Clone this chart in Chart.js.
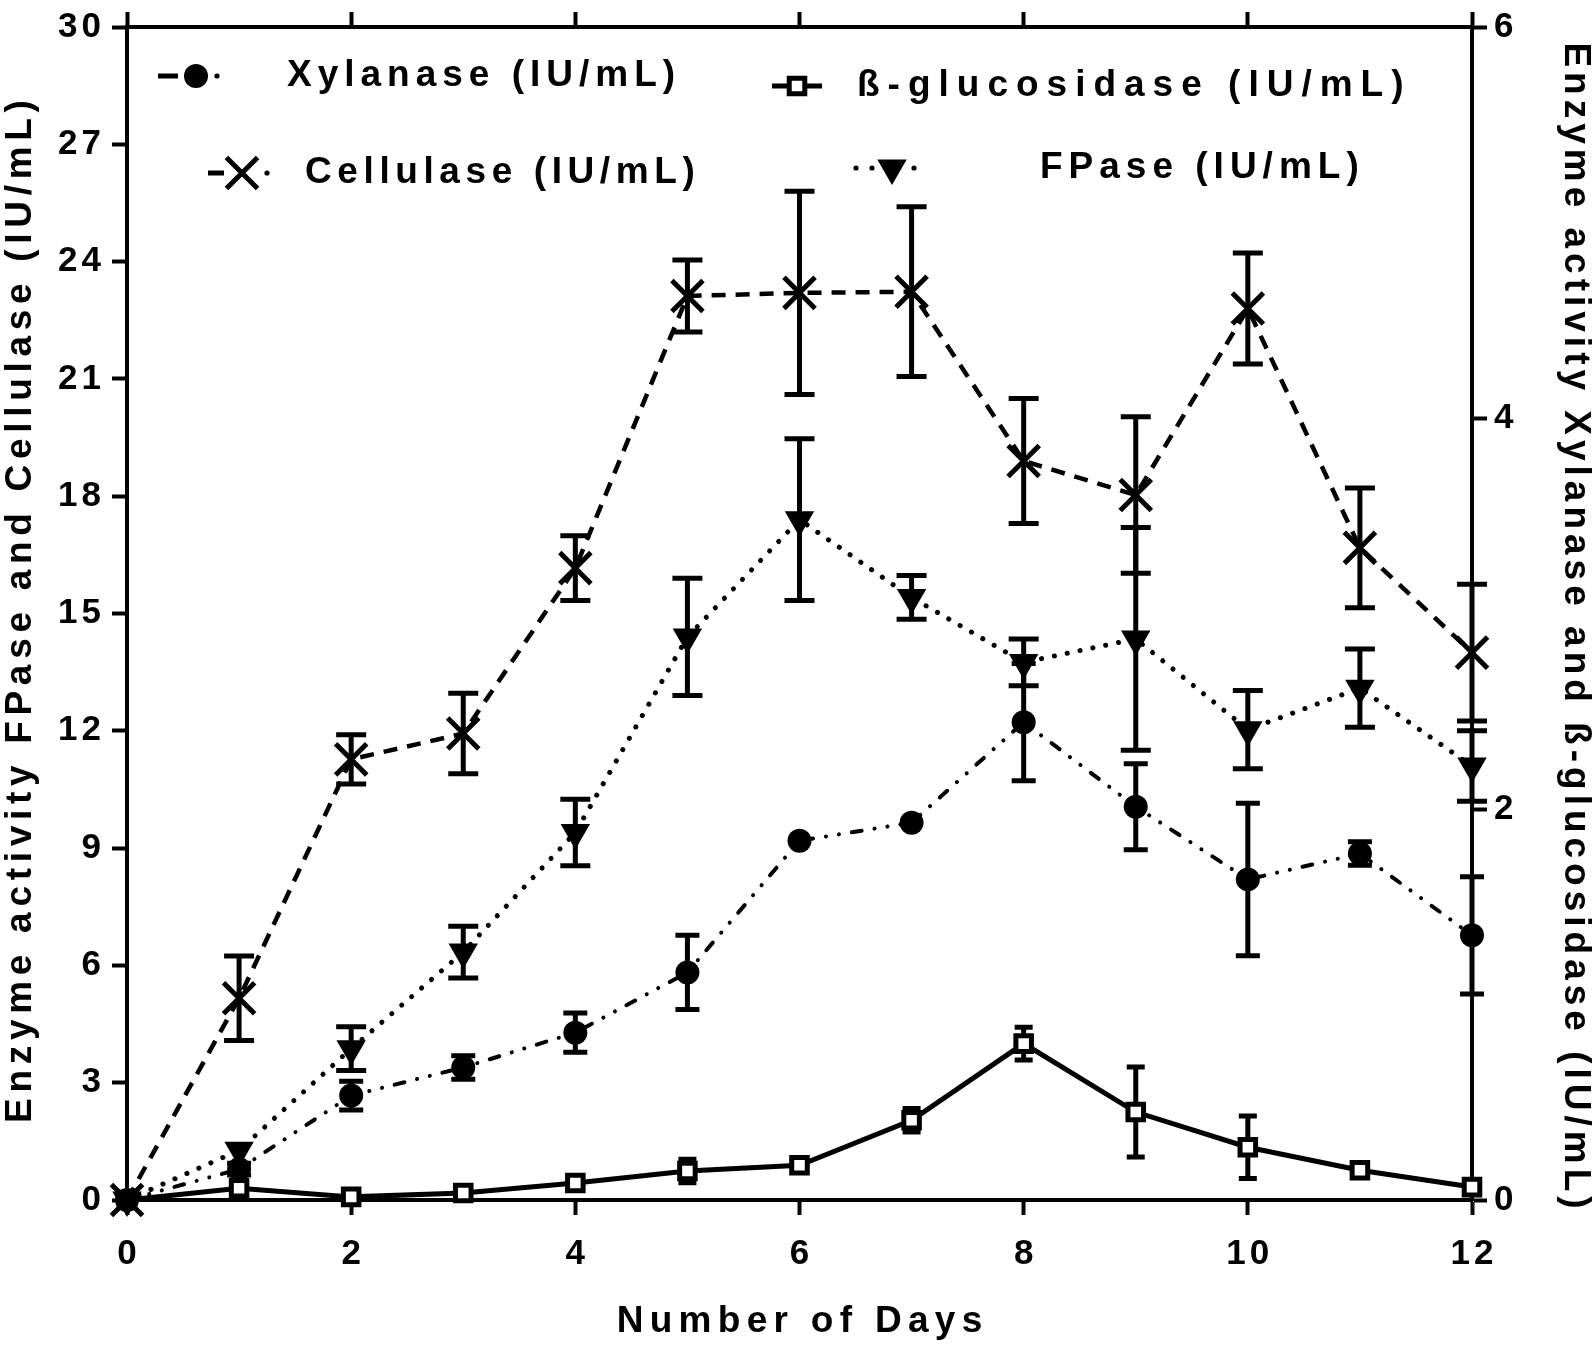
<!DOCTYPE html>
<html>
<head>
<meta charset="utf-8">
<script src="https://cdn.jsdelivr.net/npm/chart.js@4.4.0/dist/chart.umd.min.js"></script>
<style>
  html, body { margin: 0; padding: 0; background: #fff; overflow: hidden; }
  canvas { display: block; }
</style>
</head>
<body>
<canvas id="chart" width="1595" height="1347"></canvas>
<script>
// values
var days = [0, 1, 2, 3, 4, 5, 6, 7, 8, 9, 10, 11, 12];

// left axis (FPase and Cellulase, IU/mL)
var cellulase    = [0, 5.16, 11.27, 11.93, 16.16, 23.12, 23.2, 23.23, 18.9, 18.03, 22.8, 16.68, 14.0];
var cellulaseErr = [0, 1.08, 0.63, 1.03, 0.83, 0.92, 2.6, 2.17, 1.6, 2.0, 1.42, 1.53, 1.75];
var fpase        = [0, 1.27, 3.87, 6.34, 9.4, 14.4, 17.4, 15.41, 13.75, 14.35, 12.03, 13.09, 11.1];
var fpaseErr     = [0, 0, 0.56, 0.66, 0.85, 1.5, 2.07, 0.56, 0.6, 2.85, 1.0, 1.0, 0.9];

// right axis (Xylanase and ß-glucosidase, IU/mL)
var xylanase        = [0, 0.158, 0.534, 0.678, 0.856, 1.164, 1.838, 1.93, 2.444, 2.012, 1.64, 1.772, 1.354];
var xylanaseErr     = [0, 0.03, 0.074, 0.06, 0.1, 0.19, 0, 0, 0.3, 0.22, 0.39, 0.06, 0.3];
var glucosidase     = [0, 0.06, 0.016, 0.036, 0.087, 0.148, 0.178, 0.408, 0.8, 0.45, 0.27, 0.152, 0.066];
var glucosidaseErr  = [0, 0.02, 0.02, 0.01, 0.02, 0.06, 0.02, 0.06, 0.084, 0.23, 0.16, 0.02, 0.01];

var xLabel = 'Number of Days';
var yLeftLabel = 'Enzyme activity FPase and Cellulase (IU/mL)';
var yRightLabel = 'Enzyme activity Xylanase and ß-glucosidase (IU/mL)';

var FONT = "'Liberation Sans', Arial, sans-serif";
var TITLE_SIZE = 37, TICK_SIZE = 35;

function pts(vals) {
  return days.map(function (d, i) { return { x: d, y: vals[i] }; });
}

// text with letter spacing; align = left | center | right
function drawText(ctx, text, x, y, opt) {
  ctx.save();
  ctx.translate(x, y);
  ctx.rotate(opt.rot || 0);
  ctx.font = 'bold ' + opt.size + 'px ' + FONT;
  ctx.letterSpacing = '0px';
  var sp = opt.spacing || 0;
  var w = ctx.measureText(text).width + sp * (text.length - 1);
  ctx.letterSpacing = sp + 'px';
  ctx.fillStyle = '#000';
  ctx.textAlign = 'left';
  ctx.textBaseline = 'middle';
  var off = opt.align === 'right' ? -w : (opt.align === 'left' ? 0 : -w / 2);
  ctx.fillText(text, off, 0);
  ctx.restore();
}

// error bars, drawn under the lines
var errorBars = {
  id: 'errorBars',
  beforeDatasetsDraw: function (chart) {
    var ctx = chart.ctx;
    var xs = chart.scales.x;
    chart.data.datasets.forEach(function (ds) {
      if (!ds.errors) return;
      var ys = chart.scales[ds.yAxisID];
      ctx.save();
      ctx.strokeStyle = '#000';
      ctx.lineWidth = 5;
      ds.data.forEach(function (p, j) {
        var e = ds.errors[j];
        if (!e) return;
        var x = xs.getPixelForValue(p.x);
        var y1 = ys.getPixelForValue(p.y + e);
        var y2 = ys.getPixelForValue(p.y - e);
        var h = ds.capHalf;
        ctx.beginPath();
        ctx.moveTo(x, y1); ctx.lineTo(x, y2);
        ctx.moveTo(x - h, y1); ctx.lineTo(x + h, y1);
        ctx.moveTo(x - h, y2); ctx.lineTo(x + h, y2);
        ctx.stroke();
      });
      ctx.restore();
    });
  }
};

// tick labels, axis titles and the legend inside the plot
var decorations = {
  id: 'decorations',
  afterDraw: function (chart) {
    var ctx = chart.ctx;
    var sx = chart.scales.x, sy = chart.scales.y, sy2 = chart.scales.y2;
    var tick = { size: TICK_SIZE, spacing: 4 };

    sx.ticks.forEach(function (t) {
      drawText(ctx, String(t.value), sx.getPixelForValue(t.value), sx.bottom - 147 + 54,
        { size: tick.size, spacing: tick.spacing, align: 'center' });
    });
    sy.ticks.forEach(function (t) {
      drawText(ctx, String(t.value), sy.right - 26, sy.getPixelForValue(t.value),
        { size: tick.size, spacing: tick.spacing, align: 'right' });
    });
    sy2.ticks.forEach(function (t) {
      drawText(ctx, String(t.value), sy2.left + 22, sy2.getPixelForValue(t.value),
        { size: tick.size, spacing: tick.spacing, align: 'left' });
    });

    var mid = (chart.chartArea.top + chart.chartArea.bottom) / 2;
    drawText(ctx, xLabel, (chart.chartArea.left + chart.chartArea.right) / 2, 1322,
      { size: TITLE_SIZE, spacing: 6.3 });
    drawText(ctx, yLeftLabel, 21, mid - 2, { size: TITLE_SIZE, spacing: 5.7, rot: -Math.PI / 2 });
    drawText(ctx, yRightLabel, 1575, mid + 12, { size: TITLE_SIZE, spacing: 5.0, rot: Math.PI / 2 });

    var items = [
      { ds: 0, text: 'Xylanase (IU/mL)', mx: 196, y: 76, tx: 287, sp: 6, dashes: [[-38, -18]], dots: [21] },
      { ds: 1, text: 'Cellulase (IU/mL)', mx: 242, y: 173, tx: 305, sp: 5.6, dashes: [[-34, -18]], dots: [25] },
      { ds: 3, text: 'ß-glucosidase (IU/mL)', mx: 797, y: 86, tx: 857, sp: 8, dashes: [[-25, 25]], dots: [] },
      { ds: 2, text: 'FPase (IU/mL)', mx: 892, y: 168, tx: 1040, sp: 6, dashes: [], dots: [-36, -20, 22] }
    ];
    items.forEach(function (it) {
      var ds = chart.data.datasets[it.ds];
      ctx.save();
      ctx.strokeStyle = '#000';
      ctx.fillStyle = '#000';
      ctx.lineWidth = 5;
      it.dashes.forEach(function (d) {
        ctx.beginPath();
        ctx.moveTo(it.mx + d[0], it.y);
        ctx.lineTo(it.mx + d[1], it.y);
        ctx.stroke();
      });
      it.dots.forEach(function (d) {
        ctx.beginPath();
        ctx.arc(it.mx + d, it.y, 2.6, 0, Math.PI * 2);
        ctx.fill();
      });
      ctx.fillStyle = ds.pointBackgroundColor;
      ctx.lineWidth = ds.pointBorderWidth;
      Chart.helpers.drawPoint(ctx, {
        pointStyle: ds.pointStyle,
        radius: ds.pointRadius,
        rotation: ds.pointRotation || 0,
        borderWidth: ds.pointBorderWidth
      }, it.mx, it.y);
      ctx.restore();
      drawText(ctx, it.text, it.tx, it.y, { size: TITLE_SIZE, spacing: it.sp, align: 'left' });
    });
  }
};

var axisLine = { width: 4, color: '#000' };
var tickGrid = { drawOnChartArea: false, drawTicks: true, tickLength: 15, tickWidth: 4, color: '#000' };

new Chart(document.getElementById('chart').getContext('2d'), {
  type: 'line',
  data: {
    datasets: [
      {
        label: 'Xylanase (IU/mL)',
        data: pts(xylanase),
        errors: xylanaseErr,
        capHalf: 12,
        yAxisID: 'y2',
        clip: false,
        borderColor: '#000',
        borderWidth: 4,
        borderDash: [10, 13, 0.1, 13, 0.1, 13],
        borderCapStyle: 'round',
        pointStyle: 'circle',
        pointRadius: 12,
        pointBackgroundColor: '#000',
        pointBorderColor: '#000',
        pointBorderWidth: 0
      },
      {
        label: 'Cellulase (IU/mL)',
        data: pts(cellulase),
        errors: cellulaseErr,
        capHalf: 15,
        yAxisID: 'y',
        clip: false,
        borderColor: '#000',
        borderWidth: 4.5,
        borderDash: [14, 10],
        pointStyle: 'crossRot',
        pointRadius: 22,
        pointBackgroundColor: '#000',
        pointBorderColor: '#000',
        pointBorderWidth: 5
      },
      {
        label: 'FPase (IU/mL)',
        data: pts(fpase),
        errors: fpaseErr,
        capHalf: 15,
        yAxisID: 'y',
        clip: false,
        borderColor: '#000',
        borderWidth: 5,
        borderDash: [0.1, 13],
        borderCapStyle: 'round',
        pointStyle: 'triangle',
        pointRotation: 180,
        pointRadius: 17,
        pointBackgroundColor: '#000',
        pointBorderColor: '#000',
        pointBorderWidth: 0
      },
      {
        label: 'ß-glucosidase (IU/mL)',
        data: pts(glucosidase),
        errors: glucosidaseErr,
        capHalf: 9,
        yAxisID: 'y2',
        clip: false,
        borderColor: '#000',
        borderWidth: 5,
        pointStyle: 'rect',
        pointRadius: 11,
        pointBackgroundColor: '#fff',
        pointBorderColor: '#000',
        pointBorderWidth: 5
      }
    ]
  },
  options: {
    responsive: false,
    animation: false,
    layout: { padding: 0 },
    plugins: { legend: { display: false }, tooltip: { enabled: false } },
    elements: { line: { tension: 0 } },
    scales: {
      x: {
        type: 'linear', position: 'bottom', min: 0, max: 12,
        ticks: { stepSize: 2, display: false },
        grid: tickGrid, border: axisLine,
        afterFit: function (s) { s.height = 147; }
      },
      xTop: {
        type: 'linear', position: 'top', min: 0, max: 12,
        ticks: { stepSize: 2, display: false },
        grid: tickGrid, border: axisLine,
        afterFit: function (s) { s.height = 22; }
      },
      y: {
        position: 'left', min: 0, max: 30,
        ticks: { stepSize: 3, display: false },
        grid: tickGrid, border: axisLine,
        afterFit: function (s) { s.width = 127; }
      },
      y2: {
        position: 'right', min: 0, max: 6,
        ticks: { stepSize: 2, display: false },
        grid: tickGrid, border: axisLine,
        afterFit: function (s) { s.width = 123; }
      }
    }
  },
  plugins: [errorBars, decorations]
});
</script>
</body>
</html>
